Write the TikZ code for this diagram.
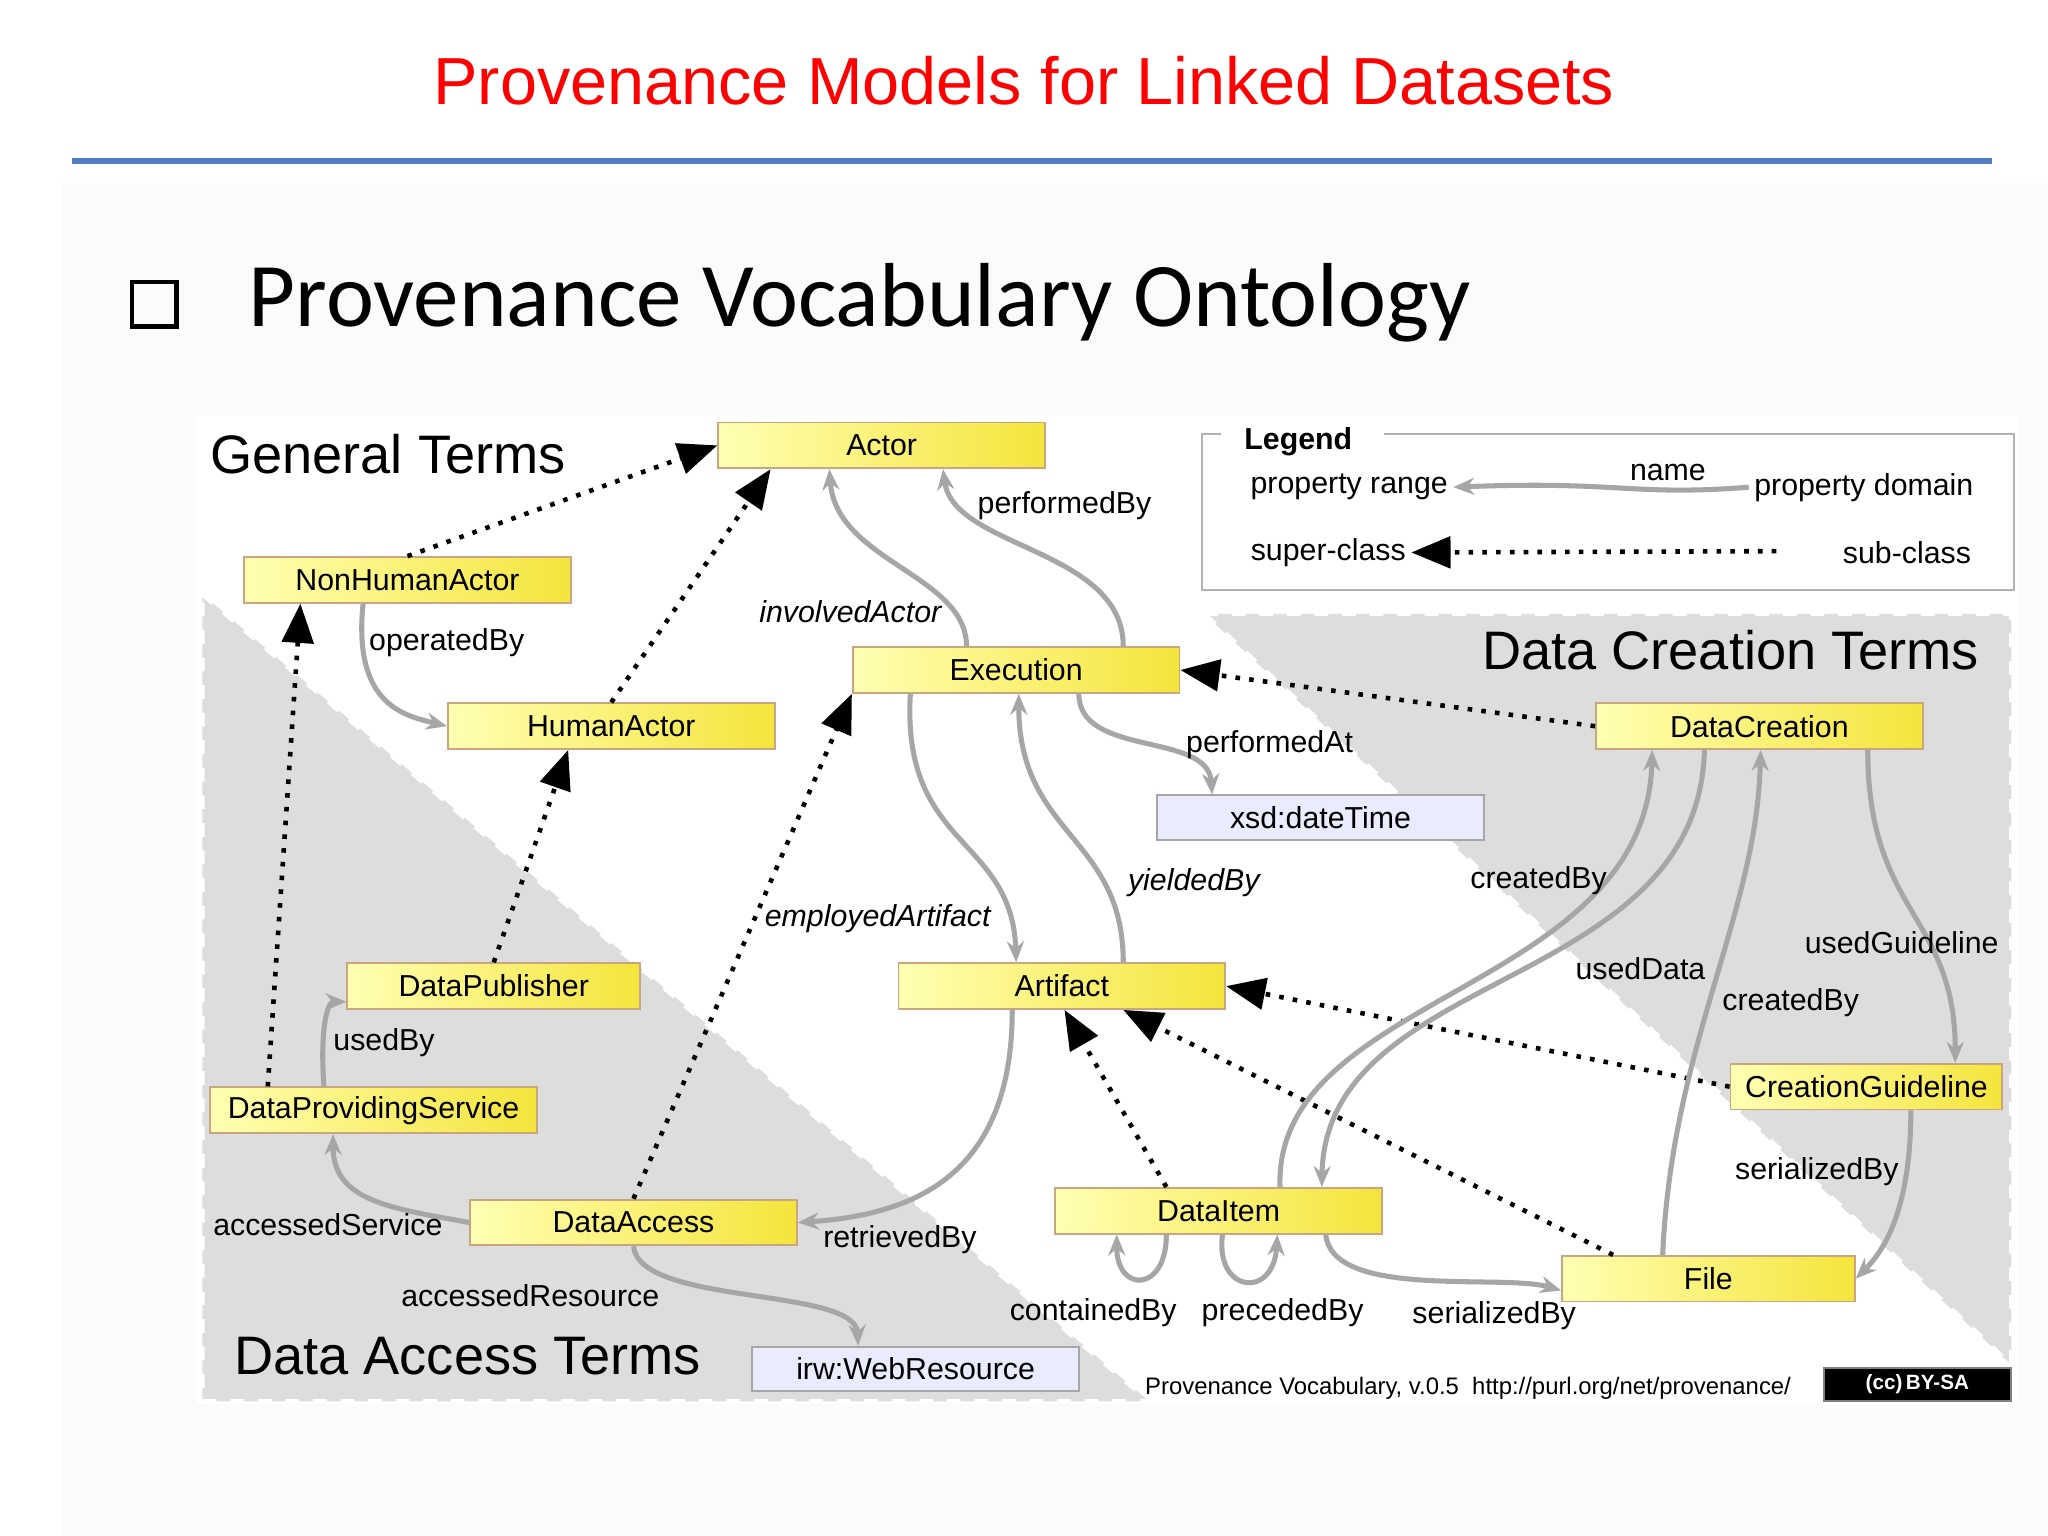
\documentclass[tikz,border=0pt]{standalone}
\usepackage{fontspec}
\setmainfont{Liberation Sans}
\newfontfamily\calib{Carlito}
\usetikzlibrary{arrows.meta}
\definecolor{boxy}{RGB}{245,228,60}
\definecolor{rule}{RGB}{80,125,195}
\tikzset{
 cls/.style={draw=orange!40!gray!70,left color=yellow!30,right color=boxy,minimum width=2.5cm,minimum height=0.35cm,inner sep=0pt,font=\fontsize{6.6}{7}\selectfont},
 lit/.style={draw=gray!70,fill=blue!8,minimum width=2.5cm,minimum height=0.34cm,inner sep=0pt,font=\fontsize{6.6}{7}\selectfont},
 prop/.style={draw=gray!70,line width=1.1pt,-{Stealth[length=0.16cm,width=0.13cm]}},
 sub/.style={draw=black,line width=1pt,dotted,-{Triangle[length=0.3cm,width=0.24cm]}},
 lbl/.style={font=\fontsize{6.6}{7}\selectfont,inner sep=1pt},
 area/.style={fill=gray!27,draw=white,dashed,line width=1pt},
}
\begin{document}
\begin{tikzpicture}[x=0.01cm,y=-0.01cm]
\useasboundingbox (0,0) rectangle (1568,1176);
\fill[gray!3] (48,140) rectangle (1568,1176);
\node[text=red,font=\fontsize{14.5}{16}\selectfont] (title) at (784,62) {Provenance Models for Linked Datasets};
\draw[line width=1.3pt,draw=rule] (55,123) -- (1525,123);
\node[draw,line width=1pt,minimum size=0.34cm,inner sep=0pt] (chk) at (118,233) {};
\node[anchor=west,font=\calib\fontsize{19.8}{22}\selectfont] (head) at (178,232) {Provenance Vocabulary Ontology};
% diagram area
\fill[white] (150,318) rectangle (1545,1075);
\path[area] (155,455) -- (880,1073) -- (155,1073) -- cycle;
\path[area] (922,470) -- (1540,470) -- (1540,1045) -- cycle;
\node[font=\fontsize{11.8}{13}\selectfont] (gt) at (297,348) {General Terms};
\node[font=\fontsize{11.8}{13}\selectfont] (dct) at (1325,498) {Data Creation Terms};
\node[font=\fontsize{11.8}{13}\selectfont] (dat) at (358,1038) {Data Access Terms};
% legend
\draw[gray!60] (1060,332) -- (1542,332) -- (1542,452) -- (920,452) -- (920,332) -- (935,332);
\node[lbl,font=\bfseries\fontsize{6.6}{7}\selectfont] (lg) at (994,338) {Legend};
\node[lbl] (pr) at (1033,373) {property range};
\node[lbl] (pn) at (1277,362) {name};
\node[lbl] (pd) at (1427,373) {property domain};
\node[lbl] (sc) at (1017,423) {super-class};
\node[lbl] (sb) at (1460,423) {sub-class};
\draw[prop] (pd.west) .. controls (1250,380) and (1240,368) .. (pr.east);
\draw[sub] (1360,422) -- (sc.east);
% nodes
\node[cls] (Actor) at (675,341) {Actor};
\node[cls] (NHA) at (312,444) {NonHumanActor};
\node[cls] (HA) at (468,556) {HumanActor};
\node[cls] (Exec) at (778,513) {Execution};
\node[cls] (DC) at (1347,556) {DataCreation};
\node[lit] (xsd) at (1011,626) {xsd:dateTime};
\node[cls,minimum width=2.24cm] (DP) at (378,755) {DataPublisher};
\node[cls] (Art) at (813,755) {Artifact};
\node[cls,minimum width=2.08cm] (CG) at (1429,832) {CreationGuideline};
\node[cls] (DPS) at (286,850) {DataProvidingService};
\node[cls] (DA) at (485,936) {DataAccess};
\node[cls] (DI) at (933,927) {DataItem};
\node[cls,minimum width=2.24cm] (File) at (1308,979) {File};
\node[lit] (irw) at (701,1048) {irw:WebResource};
% subclass
\draw[sub] (NHA.north) -- (Actor.west);
\draw[sub] (HA.north) -- (Actor.south west -| 590,0);
\draw[sub] (DPS.north -| 205,0) -- (NHA.south -| 230,0);
\draw[sub] (DP.north) -- (HA.south -| 435,0);
\draw[sub] (DA.north) -- (Exec.south west);
\draw[sub] (DC.west) -- (Exec.east);
\draw[sub] (DI.north -| 893,0) -- (Art.south -| 815,0);
\draw[sub] (File.north west -| 1235,0) -- (Art.south -| 860,0);
\draw[sub] (CG.west) -- (Art.east);
% properties
\draw[prop] (Exec.north -| 740,0) .. controls (740,440) and (640,430) .. (Actor.south -| 635,0);
\draw[prop] (Exec.north -| 860,0) .. controls (860,420) and (730,420) .. (Actor.south -| 722,0);
\draw[prop] (NHA.south -| 278,0) .. controls (270,540) and (310,548) .. (HA.west);
\draw[prop] (Exec.south -| 826,0) .. controls (826,580) and (925,560) .. (xsd.north -| 928,0);
\draw[prop] (Exec.south -| 697,0) .. controls (690,650) and (775,640) .. (Art.north -| 778,0);
\draw[prop] (Art.north -| 860,0) .. controls (860,640) and (780,640) .. (Exec.south -| 780,0);
\draw[prop] (DI.north -| 980,0) .. controls (975,760) and (1260,760) .. (DC.south -| 1265,0);
\draw[prop] (DC.south -| 1305,0) .. controls (1300,760) and (1015,740) .. (DI.north -| 1012,0);
\draw[prop] (File.north -| 1273,0) .. controls (1280,800) and (1345,700) .. (DC.south -| 1348,0);
\draw[prop] (DC.south -| 1430,0) .. controls (1430,700) and (1497,700) .. (CG.north -| 1497,0);
\draw[prop] (CG.south -| 1463,0) .. controls (1463,930) and (1440,960) .. (File.east);
\draw[prop] (Art.south -| 775,0) .. controls (775,900) and (700,930) .. (DA.east);
\draw[prop] (DPS.north -| 248,0) .. controls (245,790) and (250,767) .. (DP.west |- 0,767);
\draw[prop] (DA.west) .. controls (300,925) and (255,920) .. (DPS.south -| 255,0);
\draw[prop] (DA.south) .. controls (490,1000) and (655,985) .. (irw.north -| 657,0);
\draw[prop] (DI.south -| 893,0) .. controls (893,990) and (855,990) .. (DI.south -| 855,0);
\draw[prop] (DI.south -| 936,0) .. controls (930,990) and (975,995) .. (DI.south -| 978,0);
\draw[prop] (DI.south -| 1015,0) .. controls (1020,995) and (1150,975) .. (File.west |- 0,988);
% labels
\node[lbl,font=\itshape\fontsize{6.6}{7}\selectfont] (l1) at (651,468) {involvedActor};
\node[lbl] (l2) at (815,387) {performedBy};
\node[lbl] (l3) at (342,492) {operatedBy};
\node[lbl] (l4) at (972,570) {performedAt};
\node[lbl,font=\itshape\fontsize{6.6}{7}\selectfont] (l5) at (672,703) {employedArtifact};
\node[lbl,font=\itshape\fontsize{6.6}{7}\selectfont] (l6) at (914,676) {yieldedBy};
\node[lbl] (l7) at (1178,674) {createdBy};
\node[lbl] (l8) at (1256,742) {usedData};
\node[lbl] (l9) at (1371,768) {createdBy};
\node[lbl] (l10) at (1456,722) {usedGuideline};
\node[lbl] (l11) at (1391,897) {serializedBy};
\node[lbl] (l12) at (689,949) {retrievedBy};
\node[lbl] (l13) at (294,798) {usedBy};
\node[lbl] (l14) at (251,938) {accessedService};
\node[lbl] (l15) at (406,992) {accessedResource};
\node[lbl] (l16) at (837,1005) {containedBy};
\node[lbl] (l17) at (982,1005) {precededBy};
\node[lbl] (l18) at (1144,1007) {serializedBy};
\node[lbl,font=\fontsize{5.2}{6}\selectfont] (foot) at (1124,1063) {Provenance Vocabulary, v.0.5\ \ http://purl.org/net/provenance/};
\node[fill=black,draw=gray,minimum width=1.43cm,minimum height=0.25cm,inner sep=0pt,text=white,font=\bfseries\fontsize{4.5}{5}\selectfont] (cc) at (1468,1060) {(cc)\,BY-SA};
\end{tikzpicture}
\end{document}
